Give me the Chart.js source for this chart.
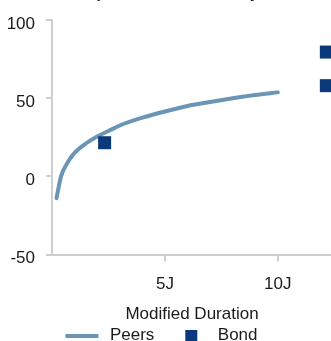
<!DOCTYPE html>
<html>
<head>
<meta charset="utf-8">
<script src="https://cdn.jsdelivr.net/npm/chart.js@4/dist/chart.umd.min.js"></script>
<style>
  html, body { margin: 0; padding: 0; background: #ffffff; overflow: hidden; }
  #wrap { position: absolute; left: 0; top: -20px; width: 332px; height: 374px; }
</style>
</head>
<body>
<div id="wrap"><canvas id="chart"></canvas></div>
<script>
// Peer group curve: return vs. modified duration (years)
const peerDurations = [0.2, 0.4, 0.7, 1.0, 1.5, 2.0, 2.5, 3.0, 4.0, 5.0, 6.0, 7.0, 8.0, 9.0, 10.0];
const peerReturns   = [-14, 0, 9, 15, 21, 25.5, 29, 32.5, 37.5, 41.5, 45, 47.5, 50, 52, 53.7];

// Individual bonds
const bondDurations = [2.33, 12.15, 12.15];
const bondReturns   = [21.5, 79.5, 58];

// Axis ranges and ticks
const yRange = [-50, 100];
const yStep = 50;
const xRange = [0, 12.4];
const xStep = 5;
const xUnit = 'J';

const seriesNames = ['Peers', 'Bond'];
const titleText = 'Bond performance vs. the yield curve';
const xAxisTitle = 'Modified Duration';

const peerColor = '#6a95b6';
const bondColor = '#0b3a7a';
const axisColor = '#cfcfcf';
const textColor = '#1a1a1a';
const FONT = 'Liberation Sans, Arial, sans-serif';

const AXIS_LEFT = 52;       // width reserved for the y axis
const X_AXIS_HEIGHT = 64.5; // ticks, tick labels and axis title
const LEGEND_LEFT = 46.4;   // legend starts under the plot

// Legend icons
function makeIcon(w, h, draw) {
  const c = document.createElement('canvas');
  c.width = w; c.height = h;
  draw(c.getContext('2d'));
  return c;
}
const ICON_W = 47;
const peerIcon = makeIcon(ICON_W, 4, ctx => { ctx.fillStyle = peerColor; ctx.fillRect(11, 0, 33, 4); });
const bondIcon = makeIcon(ICON_W, 12, ctx => { ctx.fillStyle = bondColor; ctx.fillRect(23, 0, 12, 12); });
const legendIcons = { 0: bondIcon, 1: peerIcon };

// Shift the legend so it lines up under the plot area
const legendNudge = {
  id: 'legendNudge',
  afterLayout(chart) { if (chart.legend) chart.legend.left = LEGEND_LEFT; }
};

const toPoints = (xs, ys) => xs.map((x, i) => ({ x: x, y: ys[i] }));

new Chart(document.getElementById('chart'), {
  type: 'scatter',
  plugins: [legendNudge],
  data: {
    datasets: [
      {
        label: seriesNames[1],
        data: toPoints(bondDurations, bondReturns),
        pointStyle: 'rect',
        pointRadius: 9.2,
        pointHoverRadius: 9.2,
        pointBorderWidth: 0,
        backgroundColor: bondColor,
        borderColor: bondColor,
        clip: false
      },
      {
        label: seriesNames[0],
        data: toPoints(peerDurations, peerReturns),
        showLine: true,
        borderColor: peerColor,
        backgroundColor: peerColor,
        borderWidth: 4,
        borderCapStyle: 'round',
        cubicInterpolationMode: 'monotone',
        pointRadius: 0,
        pointHoverRadius: 0
      }
    ]
  },
  options: {
    responsive: true,
    maintainAspectRatio: false,
    animation: false,
    layout: { padding: 0, autoPadding: false },
    plugins: {
      tooltip: { enabled: false },
      title: {
        display: true,
        fullSize: false,
        align: 'start',
        text: titleText,
        color: textColor,
        font: { family: FONT, size: 17 },
        padding: { top: 2.7, bottom: 16.9 }
      },
      legend: {
        position: 'bottom',
        align: 'start',
        labels: {
          usePointStyle: true,
          pointStyleWidth: ICON_W,
          padding: 8,
          color: textColor,
          font: { family: FONT, size: 17 },
          sort: (a, b) => b.datasetIndex - a.datasetIndex,
          generateLabels(chart) {
            const items = Chart.defaults.plugins.legend.labels.generateLabels(chart);
            items.forEach(it => { it.pointStyle = legendIcons[it.datasetIndex]; });
            return items;
          }
        }
      }
    },
    scales: {
      x: {
        type: 'linear',
        min: xRange[0],
        max: xRange[1],
        afterBuildTicks(scale) {
          scale.ticks = scale.ticks.filter(t => t.value > 0 && t.value % xStep === 0);
        },
        afterFit(scale) {
          scale.height = X_AXIS_HEIGHT;
          scale.paddingLeft = 0;
          scale.paddingRight = 0;
        },
        ticks: {
          stepSize: xStep,
          includeBounds: false,
          color: textColor,
          font: { family: FONT, size: 17 },
          padding: 13,
          maxRotation: 0,
          callback: v => v + xUnit
        },
        grid: { drawOnChartArea: false, drawTicks: true, tickLength: 7, color: axisColor, lineWidth: 2 },
        border: { color: axisColor, width: 2 },
        title: {
          display: true,
          text: xAxisTitle,
          color: textColor,
          font: { family: FONT, size: 17, lineHeight: 0.5 },
          padding: { top: 8, bottom: 0 }
        }
      },
      y: {
        min: yRange[0],
        max: yRange[1],
        afterFit(scale) { scale.width = AXIS_LEFT; },
        ticks: {
          stepSize: yStep,
          color: textColor,
          font: { family: FONT, size: 17 },
          padding: 11,
          labelOffset: 4
        },
        grid: { drawOnChartArea: false, drawTicks: true, tickLength: 6, color: axisColor, lineWidth: 2 },
        border: { color: axisColor, width: 2 }
      }
    }
  }
});
</script>
</body>
</html>
